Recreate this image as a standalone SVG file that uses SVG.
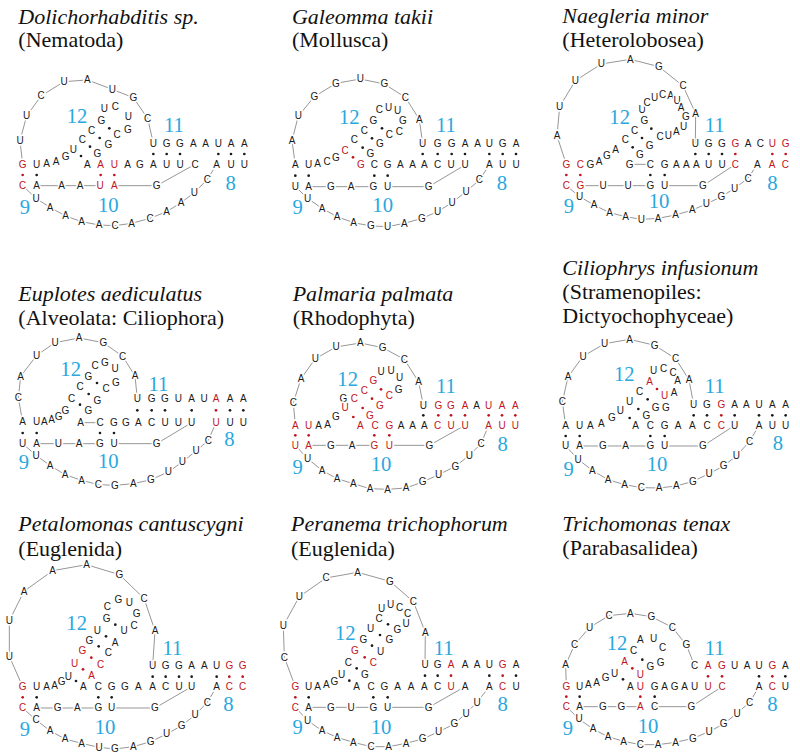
<svg xmlns="http://www.w3.org/2000/svg" width="800" height="756" viewBox="0 0 800 756">
<style>
.t{font-family:"Liberation Serif","Times New Roman",serif;font-size:66px;fill:#111}
.i{font-style:italic}
.s{font-family:"Liberation Sans",Arial,sans-serif;font-size:30px;text-anchor:middle;dominant-baseline:central;fill:#1a1a1a;stroke:#fff;stroke-width:10px;paint-order:stroke;stroke-linejoin:round}
.r{fill:#c0141c}
.n{font-family:"Liberation Serif","Times New Roman",serif;font-size:62px;fill:#29a8df;text-anchor:middle;dominant-baseline:central}
.l{fill:none;stroke:#858585;stroke-width:2.6px;stroke-linejoin:round}
.d{fill:#1a1a1a}
.dr{fill:#c0141c}
</style>
<rect width="800" height="756" fill="#fff"/>

<g id="p1" transform="translate(0 0) scale(0.333333)">
<text class="t i" x="55" y="72">Dolichorhabditis sp.</text>
<text class="t" x="55" y="142">(Nematoda)</text>
<g id="p1-connectors" class="l">
<polyline points="68,493 60,422 80,348 123,288 192,245 262,240 337,268 400,293 443,355 460,430"/>
<polyline points="110,557 300,557"/>
<polyline points="343,557 470,557 585,493"/>
<polyline points="68,557 108,595 150,622 197,648 245,665 297,675 345,677 395,670 450,655 500,635 543,608 583,578 622,538 650,493"/>
</g>
<g id="p1-letters">
<text class="s" x="60" y="422">U</text><text class="s" x="80" y="348">U</text><text class="s" x="123" y="288">C</text><text class="s" x="192" y="245">U</text><text class="s" x="262" y="240">A</text><text class="s" x="337" y="268">U</text><text class="s" x="400" y="293">G</text><text class="s" x="443" y="355">C</text>
<text class="s" x="460" y="430">U</text><text class="s" x="500" y="430">G</text><text class="s" x="540" y="430">G</text><text class="s" x="580" y="430">A</text><text class="s" x="617" y="430">A</text><text class="s" x="655" y="430">U</text><text class="s" x="693" y="430">A</text><text class="s" x="733" y="430">A</text>
<text class="s" x="140" y="491">A</text><text class="s" x="168" y="484">A</text><text class="s" x="197" y="469">G</text><text class="s" x="220" y="448">U</text>
<text class="s" x="247" y="420">C</text><text class="s" x="275" y="391">C</text><text class="s" x="304" y="361">G</text><text class="s" x="313" y="326">U</text><text class="s" x="346" y="321">C</text><text class="s" x="385" y="349">U</text><text class="s" x="384" y="388">G</text><text class="s" x="351" y="404">C</text><text class="s" x="325" y="433">G</text><text class="s" x="292" y="462">G</text>
<text class="s r" x="68" y="493">G</text><text class="s" x="110" y="493">U</text><text class="s" x="262" y="493">A</text><text class="s r" x="302" y="493">A</text><text class="s r" x="343" y="493">U</text><text class="s" x="383" y="493">A</text><text class="s" x="420" y="493">G</text><text class="s" x="460" y="493">A</text><text class="s" x="500" y="493">U</text><text class="s" x="540" y="493">U</text><text class="s" x="585" y="493">C</text><text class="s" x="650" y="493">A</text><text class="s" x="693" y="493">U</text><text class="s" x="733" y="493">U</text>
<text class="s r" x="68" y="557">C</text><text class="s" x="110" y="557">A</text><text class="s" x="185" y="557">A</text><text class="s" x="240" y="557">A</text><text class="s r" x="300" y="557">U</text><text class="s r" x="343" y="557">A</text><text class="s" x="470" y="557">G</text>
<text class="s" x="108" y="595">U</text><text class="s" x="150" y="622">A</text><text class="s" x="197" y="648">A</text><text class="s" x="245" y="665">A</text><text class="s" x="297" y="675">A</text><text class="s" x="345" y="677">C</text><text class="s" x="395" y="670">A</text><text class="s" x="450" y="655">C</text><text class="s" x="500" y="635">A</text><text class="s" x="543" y="608">A</text><text class="s" x="583" y="578">U</text><text class="s" x="622" y="538">C</text>
</g>
<g id="p1-dots" class="d"><circle cx="460" cy="462" r="4"/><circle cx="500" cy="462" r="4"/><circle cx="540" cy="462" r="4"/><circle cx="655" cy="462" r="4"/><circle cx="693" cy="462" r="4"/><circle cx="733" cy="462" r="4"/><circle cx="110" cy="525" r="4"/><circle cx="243" cy="468" r="4"/><circle cx="270" cy="440" r="4"/><circle cx="299" cy="414" r="4"/><circle cx="328" cy="385" r="4"/></g>
<g class="dr"><circle cx="68" cy="525" r="4"/><circle cx="302" cy="525" r="4"/><circle cx="343" cy="525" r="4"/></g>
<g id="p1-labels"><text class="n" x="231" y="348">12</text><text class="n" x="522" y="376">11</text><text class="n" x="325" y="615">10</text><text class="n" x="75" y="620">9</text><text class="n" x="692" y="548">8</text></g>
</g>

<g id="p2" transform="translate(266 0) scale(0.333333)">
<text class="t i" x="78" y="72">Galeomma takii</text>
<text class="t" x="78" y="142">(Mollusca)</text>
<g id="p2-connectors" class="l">
<polyline points="88,495 78,422 97,348 145,290 210,250 283,237 355,252 418,292 460,358 470,432"/>
<polyline points="128,560 322,560"/>
<polyline points="365,560 488,560 597,495"/>
<polyline points="88,560 125,595 168,625 213,650 263,668 315,678 365,680 415,670 468,655 515,635 558,608 600,575 640,540 670,495"/>
</g>
<g id="p2-letters">
<text class="s" x="78" y="422">A</text><text class="s" x="97" y="348">U</text><text class="s" x="145" y="290">G</text><text class="s" x="210" y="250">G</text><text class="s" x="283" y="237">U</text><text class="s" x="355" y="252">G</text><text class="s" x="418" y="292">C</text><text class="s" x="460" y="358">A</text>
<text class="s" x="470" y="432">U</text><text class="s" x="515" y="432">G</text><text class="s" x="557" y="432">G</text><text class="s" x="597" y="432">A</text><text class="s" x="635" y="432">A</text><text class="s" x="670" y="432">U</text><text class="s" x="710" y="432">G</text><text class="s" x="750" y="432">A</text>
<text class="s" x="155" y="490">A</text><text class="s" x="183" y="484">C</text><text class="s" x="210" y="474">G</text><text class="s r" x="237" y="452">C</text>
<text class="s" x="265" y="420">C</text><text class="s" x="295" y="392">C</text><text class="s" x="322" y="362">G</text><text class="s" x="340" y="330">C</text><text class="s" x="368" y="322">U</text><text class="s" x="395" y="331">U</text><text class="s" x="411" y="362">G</text><text class="s" x="400" y="395">C</text><text class="s" x="370" y="403">C</text><text class="s" x="342" y="432">G</text><text class="s" x="313" y="462">G</text>
<text class="s" x="88" y="495">A</text><text class="s" x="128" y="495">U</text><text class="s r" x="285" y="495">G</text><text class="s" x="325" y="495">C</text><text class="s" x="365" y="495">G</text><text class="s" x="403" y="495">A</text><text class="s" x="440" y="495">A</text><text class="s" x="475" y="495">A</text><text class="s" x="515" y="495">C</text><text class="s" x="555" y="495">U</text><text class="s" x="597" y="495">U</text><text class="s" x="670" y="495">A</text><text class="s" x="710" y="495">U</text><text class="s" x="750" y="495">U</text>
<text class="s" x="88" y="560">U</text><text class="s" x="128" y="560">A</text><text class="s" x="195" y="560">G</text><text class="s" x="255" y="560">A</text><text class="s" x="322" y="560">G</text><text class="s" x="365" y="560">U</text><text class="s" x="488" y="560">G</text>
<text class="s" x="125" y="595">U</text><text class="s" x="168" y="625">A</text><text class="s" x="213" y="650">A</text><text class="s" x="263" y="668">A</text><text class="s" x="315" y="678">G</text><text class="s" x="365" y="680">U</text><text class="s" x="415" y="670">A</text><text class="s" x="468" y="655">G</text><text class="s" x="515" y="635">U</text><text class="s" x="558" y="608">U</text><text class="s" x="600" y="575">U</text><text class="s" x="640" y="540">C</text>
</g>
<g id="p2-dots" class="d"><circle cx="470" cy="462" r="4"/><circle cx="515" cy="462" r="4"/><circle cx="557" cy="462" r="4"/><circle cx="597" cy="462" r="4"/><circle cx="670" cy="462" r="4"/><circle cx="710" cy="462" r="4"/><circle cx="750" cy="462" r="4"/><circle cx="88" cy="527" r="4"/><circle cx="128" cy="527" r="4"/><circle cx="325" cy="527" r="4"/><circle cx="365" cy="527" r="4"/><circle cx="290" cy="443" r="4"/><circle cx="318" cy="415" r="4"/><circle cx="348" cy="385" r="4"/></g>
<g class="dr"><circle cx="261" cy="472" r="4"/></g>
<g id="p2-labels"><text class="n" x="250" y="352">12</text><text class="n" x="540" y="376">11</text><text class="n" x="350" y="615">10</text><text class="n" x="95" y="620">9</text><text class="n" x="708" y="548">8</text></g>
</g>

<g id="p3" transform="translate(533 0) scale(0.333333)">
<text class="t i" x="88" y="70">Naegleria minor</text>
<text class="t" x="88" y="142">(Heterolobosea)</text>
<g id="p3-connectors" class="l">
<polyline points="100,493 72,408 80,320 127,242 205,192 292,178 378,200 450,258 488,340 487,432"/>
<polyline points="290,493 352,493"/>
<polyline points="142,557 352,557"/>
<polyline points="395,557 510,557 607,493"/>
<polyline points="100,557 140,590 183,615 230,638 278,650 325,658 375,655 428,645 478,630 520,612 565,590 605,565 645,535 673,493"/>
</g>
<g id="p3-letters">
<text class="s" x="72" y="408">A</text><text class="s" x="80" y="320">U</text><text class="s" x="127" y="242">U</text><text class="s" x="205" y="192">U</text><text class="s" x="292" y="178">A</text><text class="s" x="378" y="200">G</text><text class="s" x="450" y="258">C</text><text class="s" x="488" y="340">A</text>
<text class="s" x="487" y="432">U</text><text class="s" x="527" y="432">G</text><text class="s" x="567" y="432">G</text><text class="s r" x="607" y="432">G</text><text class="s" x="645" y="432">A</text><text class="s" x="682" y="432">C</text><text class="s r" x="718" y="432">U</text><text class="s r" x="758" y="432">G</text>
<text class="s" x="198" y="484">A</text><text class="s" x="222" y="468">G</text><text class="s" x="248" y="448">A</text>
<text class="s" x="277" y="420">C</text><text class="s" x="305" y="391">C</text><text class="s" x="334" y="363">G</text><text class="s" x="327" y="330">U</text><text class="s" x="342" y="309">C</text><text class="s" x="365" y="293">U</text><text class="s" x="389" y="284">C</text><text class="s" x="413" y="288">A</text><text class="s" x="432" y="301">U</text><text class="s" x="444" y="322">A</text><text class="s" x="459" y="350">G</text><text class="s" x="452" y="380">U</text><text class="s" x="430" y="394">A</text><text class="s" x="406" y="406">U</text><text class="s" x="381" y="411">C</text><text class="s" x="350" y="436">G</text><text class="s" x="321" y="465">G</text>
<text class="s r" x="100" y="493">G</text><text class="s r" x="142" y="493">C</text><text class="s" x="172" y="493">G</text><text class="s" x="290" y="493">G</text><text class="s" x="352" y="493">C</text><text class="s" x="395" y="493">G</text><text class="s" x="430" y="493">A</text><text class="s" x="460" y="493">A</text><text class="s" x="490" y="493">A</text><text class="s" x="527" y="493">U</text><text class="s" x="567" y="493">U</text><text class="s r" x="607" y="493">C</text><text class="s" x="673" y="493">A</text><text class="s r" x="717" y="493">A</text><text class="s r" x="757" y="493">C</text>
<text class="s r" x="100" y="557">C</text><text class="s r" x="142" y="557">G</text><text class="s" x="210" y="557">U</text><text class="s" x="285" y="557">U</text><text class="s" x="352" y="557">G</text><text class="s" x="395" y="557">U</text><text class="s" x="510" y="557">G</text>
<text class="s" x="140" y="590">U</text><text class="s" x="183" y="615">A</text><text class="s" x="230" y="638">A</text><text class="s" x="278" y="650">A</text><text class="s" x="325" y="658">U</text><text class="s" x="375" y="655">A</text><text class="s" x="428" y="645">A</text><text class="s" x="478" y="630">A</text><text class="s" x="520" y="612">U</text><text class="s" x="565" y="590">G</text><text class="s" x="605" y="565">U</text><text class="s" x="645" y="535">C</text>
</g>
<g id="p3-dots" class="d"><circle cx="487" cy="462" r="4"/><circle cx="527" cy="462" r="4"/><circle cx="567" cy="462" r="4"/><circle cx="352" cy="525" r="4"/><circle cx="395" cy="525" r="4"/><circle cx="299" cy="442" r="4"/><circle cx="327" cy="414" r="4"/><circle cx="355" cy="386" r="4"/></g>
<g class="dr"><circle cx="607" cy="462" r="4"/><circle cx="718" cy="462" r="4"/><circle cx="758" cy="462" r="4"/><circle cx="100" cy="525" r="4"/><circle cx="142" cy="525" r="4"/></g>
<g id="p3-labels"><text class="n" x="260" y="350">12</text><text class="n" x="545" y="376">11</text><text class="n" x="378" y="603">10</text><text class="n" x="108" y="618">9</text><text class="n" x="718" y="548">8</text></g>
</g>

<g id="p4" transform="translate(0 252) scale(0.333333)">
<text class="t i" x="55" y="148">Euplotes aediculatus</text>
<text class="t" x="55" y="220">(Alveolata: Ciliophora)</text>
<g id="p4-connectors" class="l">
<polyline points="68,510 55,438 62,373 110,310 165,272 237,258 310,272 368,313 405,372 412,440"/>
<polyline points="242,512 300,512"/>
<polyline points="110,575 300,575"/>
<polyline points="342,575 470,575 575,512"/>
<polyline points="68,575 108,610 150,640 195,668 245,685 295,698 345,700 400,695 453,683 505,660 547,630 588,597 625,565 648,512"/>
</g>
<g id="p4-letters">
<text class="s" x="55" y="438">C</text><text class="s" x="62" y="373">A</text><text class="s" x="110" y="310">U</text><text class="s" x="165" y="272">U</text><text class="s" x="237" y="258">A</text><text class="s" x="310" y="272">G</text><text class="s" x="368" y="313">C</text><text class="s" x="405" y="372">A</text>
<text class="s" x="412" y="440">U</text><text class="s" x="455" y="440">G</text><text class="s" x="495" y="440">G</text><text class="s" x="535" y="440">U</text><text class="s" x="575" y="440">A</text><text class="s" x="612" y="440">U</text><text class="s r" x="648" y="440">A</text><text class="s" x="690" y="440">A</text><text class="s" x="730" y="440">A</text>
<text class="s" x="155" y="504">A</text><text class="s" x="176" y="494">G</text><text class="s" x="196" y="476">G</text>
<text class="s" x="215" y="440">C</text><text class="s" x="240" y="405">C</text><text class="s" x="265" y="375">G</text><text class="s" x="285" y="340">C</text><text class="s" x="315" y="332">G</text><text class="s" x="345" y="350">U</text><text class="s" x="348" y="393">G</text><text class="s" x="318" y="411">C</text><text class="s" x="292" y="447">G</text><text class="s" x="265" y="475">G</text>
<text class="s" x="68" y="510">A</text><text class="s" x="110" y="510">U</text><text class="s" x="133" y="510">A</text>
<text class="s" x="242" y="512">A</text><text class="s" x="300" y="512">C</text><text class="s" x="342" y="512">G</text><text class="s" x="378" y="512">G</text><text class="s" x="415" y="512">A</text><text class="s" x="455" y="512">C</text><text class="s" x="495" y="512">U</text><text class="s" x="535" y="512">U</text><text class="s" x="575" y="512">U</text><text class="s r" x="648" y="512">U</text><text class="s" x="690" y="512">U</text><text class="s" x="730" y="512">U</text>
<text class="s" x="68" y="575">U</text><text class="s" x="110" y="575">A</text><text class="s" x="175" y="575">U</text><text class="s" x="237" y="575">A</text><text class="s" x="300" y="575">G</text><text class="s" x="342" y="575">U</text><text class="s" x="470" y="575">G</text>
<text class="s" x="108" y="610">U</text><text class="s" x="150" y="640">A</text><text class="s" x="195" y="668">A</text><text class="s" x="245" y="685">A</text><text class="s" x="295" y="698">C</text><text class="s" x="345" y="700">G</text><text class="s" x="400" y="695">A</text><text class="s" x="453" y="683">G</text><text class="s" x="505" y="660">U</text><text class="s" x="547" y="630">U</text><text class="s" x="588" y="597">U</text><text class="s" x="625" y="565">C</text>
</g>
<g id="p4-dots" class="d"><circle cx="412" cy="475" r="4"/><circle cx="455" cy="475" r="4"/><circle cx="495" cy="475" r="4"/><circle cx="575" cy="475" r="4"/><circle cx="690" cy="475" r="4"/><circle cx="730" cy="475" r="4"/><circle cx="68" cy="543" r="4"/><circle cx="110" cy="543" r="4"/><circle cx="300" cy="543" r="4"/><circle cx="342" cy="543" r="4"/><circle cx="240" cy="458" r="4"/><circle cx="266" cy="426" r="4"/><circle cx="291" cy="393" r="4"/></g>
<g class="dr"><circle cx="648" cy="475" r="4"/></g>
<g id="p4-labels"><text class="n" x="212" y="350">12</text><text class="n" x="475" y="395">11</text><text class="n" x="325" y="627">10</text><text class="n" x="72" y="630">9</text><text class="n" x="688" y="560">8</text></g>
</g>

<g id="p5" transform="translate(266 252) scale(0.333333)">
<text class="t i" x="80" y="148">Palmaria palmata</text>
<text class="t" x="80" y="220">(Rhodophyta)</text>
<g id="p5-connectors" class="l">
<polyline points="88,520 82,452 105,380 148,320 210,285 283,273 350,287 415,322 458,390 472,460"/>
<polyline points="128,580 325,580"/>
<polyline points="370,580 490,580 597,520"/>
<polyline points="88,580 125,620 168,655 213,680 262,695 312,710 365,712 420,708 470,690 518,668 568,643 610,610 645,575 668,520"/>
</g>
<g id="p5-letters">
<text class="s" x="82" y="452">C</text><text class="s" x="105" y="380">A</text><text class="s" x="148" y="320">U</text><text class="s" x="210" y="285">U</text><text class="s" x="283" y="273">A</text><text class="s" x="350" y="287">G</text><text class="s" x="415" y="322">C</text><text class="s" x="458" y="390">A</text>
<text class="s" x="472" y="460">U</text><text class="s r" x="517" y="460">G</text><text class="s r" x="555" y="460">G</text><text class="s r" x="597" y="460">A</text><text class="s" x="632" y="460">A</text><text class="s r" x="668" y="460">U</text><text class="s r" x="708" y="460">A</text><text class="s r" x="748" y="460">A</text>
<text class="s" x="185" y="517">A</text><text class="s" x="210" y="493">G</text><text class="s" x="232" y="440">G</text>
<text class="s r" x="237" y="468">U</text><text class="s r" x="265" y="440">C</text><text class="s r" x="295" y="415">C</text><text class="s r" x="322" y="385">G</text>
<text class="s" x="345" y="358">U</text><text class="s" x="375" y="356">U</text><text class="s" x="401" y="378">U</text><text class="s" x="398" y="412">G</text>
<text class="s r" x="370" y="432">C</text><text class="s r" x="342" y="462">G</text><text class="s r" x="312" y="492">G</text>
<text class="s r" x="88" y="520">A</text><text class="s r" x="128" y="520">U</text><text class="s" x="158" y="520">A</text><text class="s r" x="283" y="520">A</text><text class="s r" x="327" y="520">C</text><text class="s r" x="370" y="520">G</text><text class="s" x="405" y="520">A</text><text class="s" x="440" y="520">A</text><text class="s" x="475" y="520">A</text><text class="s r" x="515" y="520">C</text><text class="s r" x="555" y="520">U</text><text class="s r" x="597" y="520">U</text><text class="s r" x="668" y="520">A</text><text class="s r" x="708" y="520">U</text><text class="s r" x="748" y="520">U</text>
<text class="s r" x="88" y="580">U</text><text class="s r" x="128" y="580">A</text><text class="s" x="195" y="580">G</text><text class="s" x="258" y="580">A</text><text class="s r" x="325" y="580">G</text><text class="s r" x="370" y="580">U</text><text class="s" x="490" y="580">G</text>
<text class="s" x="125" y="620">U</text><text class="s" x="168" y="655">A</text><text class="s" x="213" y="680">A</text><text class="s" x="262" y="695">A</text><text class="s" x="312" y="710">A</text><text class="s" x="365" y="712">A</text><text class="s" x="420" y="708">A</text><text class="s" x="470" y="690">G</text><text class="s" x="518" y="668">U</text><text class="s" x="568" y="643">G</text><text class="s" x="610" y="610">U</text><text class="s" x="645" y="575">C</text>
</g>
<g id="p5-dots" class="d"><circle cx="472" cy="490" r="4"/></g>
<g class="dr"><circle cx="517" cy="490" r="4"/><circle cx="555" cy="490" r="4"/><circle cx="597" cy="490" r="4"/><circle cx="668" cy="490" r="4"/><circle cx="708" cy="490" r="4"/><circle cx="748" cy="490" r="4"/><circle cx="88" cy="550" r="4"/><circle cx="128" cy="550" r="4"/><circle cx="325" cy="550" r="4"/><circle cx="370" cy="550" r="4"/><circle cx="262" cy="495" r="4"/><circle cx="290" cy="468" r="4"/><circle cx="318" cy="440" r="4"/><circle cx="345" cy="412" r="4"/></g>
<g id="p5-labels"><text class="n" x="245" y="380">12</text><text class="n" x="540" y="403">11</text><text class="n" x="345" y="635">10</text><text class="n" x="95" y="645">9</text><text class="n" x="710" y="575">8</text></g>
</g>

<g id="p6" transform="translate(533 252) scale(0.333333)">
<text class="t i" x="88" y="68">Ciliophrys infusionum</text>
<text class="t" x="88" y="140">(Stramenopiles:</text>
<text class="t" x="88" y="212">Dictyochophyceae)</text>
<g id="p6-connectors" class="l">
<polyline points="98,520 88,450 105,375 150,313 215,275 290,262 365,280 428,320 468,383 482,458"/>
<polyline points="140,582 352,582"/>
<polyline points="395,582 510,582 605,520"/>
<polyline points="98,582 135,622 178,655 225,683 275,698 325,707 378,708 430,702 480,688 528,665 572,642 610,612 650,568 678,520"/>
</g>
<g id="p6-letters">
<text class="s" x="88" y="450">C</text><text class="s" x="105" y="375">A</text><text class="s" x="150" y="313">U</text><text class="s" x="215" y="275">U</text><text class="s" x="290" y="262">A</text><text class="s" x="365" y="280">G</text><text class="s" x="428" y="320">C</text><text class="s" x="468" y="383">A</text>
<text class="s" x="482" y="458">U</text><text class="s" x="522" y="458">G</text><text class="s r" x="565" y="458">G</text><text class="s" x="605" y="458">A</text><text class="s" x="640" y="458">A</text><text class="s" x="678" y="458">U</text><text class="s" x="718" y="458">A</text><text class="s" x="758" y="458">A</text>
<text class="s" x="205" y="515">A</text><text class="s" x="237" y="498">G</text><text class="s" x="262" y="475">U</text>
<text class="s" x="290" y="450">U</text><text class="s" x="320" y="420">C</text><text class="s r" x="350" y="390">A</text>
<text class="s" x="362" y="357">U</text><text class="s" x="392" y="351">C</text><text class="s" x="420" y="363">C</text><text class="s" x="434" y="387">A</text><text class="s" x="423" y="421">A</text>
<text class="s r" x="395" y="431">U</text>
<text class="s" x="399" y="466">G</text><text class="s" x="368" y="466">G</text><text class="s" x="340" y="492">G</text>
<text class="s" x="98" y="520">A</text><text class="s" x="140" y="520">U</text><text class="s" x="172" y="520">A</text><text class="s" x="308" y="520">A</text><text class="s" x="352" y="520">C</text><text class="s" x="395" y="520">G</text><text class="s" x="435" y="520">A</text><text class="s" x="478" y="520">A</text><text class="s" x="522" y="520">C</text><text class="s r" x="565" y="520">C</text><text class="s" x="605" y="520">U</text><text class="s" x="678" y="520">A</text><text class="s" x="718" y="520">U</text><text class="s" x="758" y="520">U</text>
<text class="s" x="98" y="582">U</text><text class="s" x="140" y="582">A</text><text class="s" x="210" y="582">G</text><text class="s" x="278" y="582">A</text><text class="s" x="352" y="582">G</text><text class="s" x="395" y="582">U</text><text class="s" x="510" y="582">G</text>
<text class="s" x="135" y="622">U</text><text class="s" x="178" y="655">A</text><text class="s" x="225" y="683">A</text><text class="s" x="275" y="698">A</text><text class="s" x="325" y="707">C</text><text class="s" x="378" y="708">A</text><text class="s" x="430" y="702">A</text><text class="s" x="480" y="688">G</text><text class="s" x="528" y="665">U</text><text class="s" x="572" y="642">G</text><text class="s" x="610" y="612">U</text><text class="s" x="650" y="568">C</text>
</g>
<g id="p6-dots" class="d"><circle cx="482" cy="490" r="4"/><circle cx="522" cy="490" r="4"/><circle cx="605" cy="490" r="4"/><circle cx="678" cy="490" r="4"/><circle cx="718" cy="490" r="4"/><circle cx="758" cy="490" r="4"/><circle cx="98" cy="552" r="4"/><circle cx="140" cy="552" r="4"/><circle cx="352" cy="552" r="4"/><circle cx="395" cy="552" r="4"/><circle cx="290" cy="498" r="4"/><circle cx="316" cy="471" r="4"/><circle cx="344" cy="442" r="4"/></g>
<g class="dr"><circle cx="565" cy="490" r="4"/><circle cx="372" cy="411" r="4"/></g>
<g id="p6-labels"><text class="n" x="274" y="367">12</text><text class="n" x="545" y="403">11</text><text class="n" x="372" y="635">10</text><text class="n" x="107" y="652">9</text><text class="n" x="735" y="573">8</text></g>
</g>

<g id="p7" transform="translate(0 504) scale(0.333333)">
<text class="t i" x="55" y="80">Petalomonas cantuscygni</text>
<text class="t" x="55" y="155">(Euglenida)</text>
<g id="p7-connectors" class="l">
<polyline points="68,548 28,457 28,350 72,262 158,200 260,182 358,212 432,283 465,380 458,485"/>
<polyline points="110,612 295,612"/>
<polyline points="335,612 465,612 575,548"/>
<polyline points="68,612 108,648 150,680 195,705 245,718 297,730 345,735 400,728 452,713 500,690 545,665 585,633 622,595 650,548"/>
</g>
<g id="p7-letters">
<text class="s" x="28" y="457">U</text><text class="s" x="28" y="350">U</text><text class="s" x="72" y="262">A</text><text class="s" x="158" y="200">A</text><text class="s" x="260" y="182">A</text><text class="s" x="358" y="212">G</text><text class="s" x="432" y="283">C</text><text class="s" x="465" y="380">A</text>
<text class="s" x="458" y="485">U</text><text class="s" x="497" y="485">G</text><text class="s" x="537" y="485">G</text><text class="s" x="575" y="485">A</text><text class="s" x="613" y="485">A</text><text class="s" x="650" y="485">U</text><text class="s r" x="688" y="485">G</text><text class="s r" x="728" y="485">G</text>
<text class="s" x="164" y="545">A</text><text class="s" x="185" y="534">G</text><text class="s" x="205" y="517">U</text>
<text class="s r" x="224" y="478">U</text><text class="s r" x="247" y="440">G</text>
<text class="s" x="268" y="410">G</text><text class="s" x="292" y="380">U</text><text class="s" x="320" y="345">G</text><text class="s" x="322" y="307">C</text><text class="s" x="355" y="288">G</text><text class="s" x="388" y="295">U</text><text class="s" x="410" y="328">G</text><text class="s" x="402" y="365">C</text><text class="s" x="372" y="380">U</text><text class="s" x="345" y="415">A</text><text class="s" x="325" y="445">C</text>
<text class="s r" x="302" y="482">C</text><text class="s r" x="275" y="515">A</text>
<text class="s r" x="68" y="548">G</text><text class="s" x="110" y="548">U</text><text class="s" x="140" y="548">A</text><text class="s" x="250" y="548">A</text><text class="s" x="295" y="548">C</text><text class="s" x="335" y="548">G</text><text class="s" x="375" y="548">G</text><text class="s" x="415" y="548">A</text><text class="s" x="458" y="548">A</text><text class="s" x="497" y="548">C</text><text class="s" x="537" y="548">U</text><text class="s" x="575" y="548">U</text><text class="s" x="650" y="548">A</text><text class="s r" x="688" y="548">C</text><text class="s r" x="728" y="548">C</text>
<text class="s r" x="68" y="612">C</text><text class="s" x="110" y="612">A</text><text class="s" x="173" y="612">G</text><text class="s" x="232" y="612">A</text><text class="s" x="295" y="612">G</text><text class="s" x="335" y="612">U</text><text class="s" x="465" y="612">G</text>
<text class="s" x="108" y="648">C</text><text class="s" x="150" y="680">A</text><text class="s" x="195" y="705">A</text><text class="s" x="245" y="718">A</text><text class="s" x="297" y="730">U</text><text class="s" x="345" y="735">G</text><text class="s" x="400" y="728">A</text><text class="s" x="452" y="713">G</text><text class="s" x="500" y="690">U</text><text class="s" x="545" y="665">G</text><text class="s" x="585" y="633">U</text><text class="s" x="622" y="595">C</text>
</g>
<g id="p7-dots" class="d"><circle cx="458" cy="518" r="4"/><circle cx="497" cy="518" r="4"/><circle cx="537" cy="518" r="4"/><circle cx="575" cy="518" r="4"/><circle cx="650" cy="518" r="4"/><circle cx="110" cy="580" r="4"/><circle cx="295" cy="580" r="4"/><circle cx="335" cy="580" r="4"/><circle cx="228" cy="531" r="4"/><circle cx="296" cy="427" r="4"/><circle cx="318" cy="397" r="4"/><circle cx="346" cy="362" r="4"/></g>
<g class="dr"><circle cx="688" cy="518" r="4"/><circle cx="728" cy="518" r="4"/><circle cx="68" cy="580" r="4"/><circle cx="249" cy="496" r="4"/><circle cx="274" cy="461" r="4"/></g>
<g id="p7-labels"><text class="n" x="230" y="358">12</text><text class="n" x="517" y="431">11</text><text class="n" x="315" y="668">10</text><text class="n" x="75" y="675">9</text><text class="n" x="685" y="600">8</text></g>
</g>

<g id="p8" transform="translate(266 504) scale(0.333333)">
<text class="t i" x="75" y="80">Peranema trichophorum</text>
<text class="t" x="75" y="155">(Euglenida)</text>
<g id="p8-connectors" class="l">
<polyline points="88,548 55,460 52,365 100,278 180,222 275,205 372,232 442,293 478,385 477,483"/>
<polyline points="128,610 322,610"/>
<polyline points="365,610 488,610 597,548"/>
<polyline points="88,610 125,650 168,680 213,700 262,715 315,728 368,728 420,718 470,705 518,683 565,660 600,628 633,595 670,548"/>
</g>
<g id="p8-letters">
<text class="s" x="55" y="460">C</text><text class="s" x="52" y="365">U</text><text class="s" x="100" y="278">U</text><text class="s" x="180" y="222">C</text><text class="s" x="275" y="205">A</text><text class="s" x="372" y="232">G</text><text class="s" x="442" y="293">C</text><text class="s" x="478" y="385">A</text>
<text class="s" x="477" y="483">U</text><text class="s" x="515" y="483">G</text><text class="s r" x="555" y="483">A</text><text class="s" x="597" y="483">A</text><text class="s" x="633" y="483">A</text><text class="s" x="670" y="483">U</text><text class="s r" x="710" y="483">G</text><text class="s" x="750" y="483">A</text>
<text class="s" x="181" y="543">A</text><text class="s" x="205" y="532">G</text><text class="s" x="227" y="512">U</text>
<text class="s" x="247" y="475">C</text><text class="s r" x="267" y="441">G</text>
<text class="s" x="292" y="406">G</text><text class="s" x="314" y="375">U</text><text class="s" x="339" y="345">C</text><text class="s" x="347" y="313">U</text><text class="s" x="374" y="303">U</text><text class="s" x="401" y="310">C</text><text class="s" x="425" y="328">C</text><text class="s" x="420" y="358">U</text><text class="s" x="394" y="378">G</text><text class="s" x="370" y="408">G</text><text class="s" x="344" y="443">U</text>
<text class="s r" x="322" y="476">C</text><text class="s" x="297" y="511">G</text>
<text class="s r" x="88" y="548">G</text><text class="s" x="128" y="548">U</text><text class="s" x="155" y="548">A</text><text class="s" x="272" y="548">A</text><text class="s" x="315" y="548">C</text><text class="s" x="355" y="548">G</text><text class="s" x="395" y="548">A</text><text class="s" x="435" y="548">A</text><text class="s" x="475" y="548">A</text><text class="s" x="515" y="548">C</text><text class="s r" x="555" y="548">U</text><text class="s" x="597" y="548">A</text><text class="s" x="670" y="548">A</text><text class="s r" x="710" y="548">C</text><text class="s" x="750" y="548">U</text>
<text class="s r" x="88" y="610">C</text><text class="s" x="128" y="610">A</text><text class="s" x="195" y="610">G</text><text class="s" x="255" y="610">U</text><text class="s" x="322" y="610">G</text><text class="s" x="365" y="610">U</text><text class="s" x="488" y="610">G</text>
<text class="s" x="125" y="650">U</text><text class="s" x="168" y="680">A</text><text class="s" x="213" y="700">A</text><text class="s" x="262" y="715">A</text><text class="s" x="315" y="728">C</text><text class="s" x="368" y="728">A</text><text class="s" x="420" y="718">A</text><text class="s" x="470" y="705">G</text><text class="s" x="518" y="683">U</text><text class="s" x="565" y="660">G</text><text class="s" x="600" y="628">U</text><text class="s" x="633" y="595">U</text>
</g>
<g id="p8-dots" class="d"><circle cx="477" cy="515" r="4"/><circle cx="515" cy="515" r="4"/><circle cx="670" cy="515" r="4"/><circle cx="750" cy="515" r="4"/><circle cx="128" cy="580" r="4"/><circle cx="322" cy="580" r="4"/><circle cx="365" cy="580" r="4"/><circle cx="272" cy="493" r="4"/><circle cx="250" cy="530" r="4"/><circle cx="318" cy="425" r="4"/><circle cx="342" cy="393" r="4"/><circle cx="366" cy="361" r="4"/></g>
<g class="dr"><circle cx="555" cy="515" r="4"/><circle cx="710" cy="515" r="4"/><circle cx="88" cy="580" r="4"/><circle cx="296" cy="460" r="4"/></g>
<g id="p8-labels"><text class="n" x="238" y="386">12</text><text class="n" x="533" y="433">11</text><text class="n" x="345" y="670">10</text><text class="n" x="95" y="670">9</text><text class="n" x="710" y="600">8</text></g>
</g>

<g id="p9" transform="translate(533 504) scale(0.333333)">
<text class="t i" x="88" y="82">Trichomonas tenax</text>
<text class="t" x="88" y="152">(Parabasalidea)</text>
<g id="p9-connectors" class="l">
<polyline points="100,548 98,482 125,422 170,370 228,335 292,328 355,338 418,370 460,423 485,485"/>
<polyline points="140,608 322,608"/>
<polyline points="365,608 475,608 567,548"/>
<polyline points="100,608 138,645 180,675 225,698 272,712 322,722 375,722 428,715 480,703 528,683 572,660 612,628 650,595 678,548"/>
</g>
<g id="p9-letters">
<text class="s" x="98" y="482">A</text><text class="s" x="125" y="422">C</text><text class="s" x="170" y="370">U</text><text class="s" x="228" y="335">C</text><text class="s" x="292" y="328">A</text><text class="s" x="355" y="338">G</text><text class="s" x="418" y="370">C</text><text class="s" x="460" y="423">G</text>
<text class="s" x="485" y="485">C</text><text class="s r" x="525" y="485">A</text><text class="s r" x="567" y="485">G</text><text class="s" x="605" y="485">U</text><text class="s" x="642" y="485">A</text><text class="s" x="678" y="485">U</text><text class="s r" x="718" y="485">G</text><text class="s" x="757" y="485">A</text>
<text class="s" x="166" y="543">A</text><text class="s" x="191" y="535">A</text><text class="s" x="218" y="522">G</text><text class="s" x="245" y="508">U</text>
<text class="s r" x="275" y="472">A</text>
<text class="s" x="302" y="440">C</text><text class="s" x="322" y="408">A</text><text class="s" x="362" y="404">U</text><text class="s" x="389" y="432">C</text><text class="s" x="383" y="477">G</text><text class="s" x="352" y="489">G</text>
<text class="s r" x="322" y="513">U</text>
<text class="s r" x="100" y="548">G</text><text class="s" x="140" y="548">U</text><text class="s" x="292" y="548">A</text><text class="s r" x="322" y="548">U</text><text class="s" x="365" y="548">G</text><text class="s" x="395" y="548">A</text><text class="s" x="425" y="548">G</text><text class="s" x="455" y="548">A</text><text class="s" x="485" y="548">U</text><text class="s r" x="525" y="548">U</text><text class="s r" x="567" y="548">C</text><text class="s" x="678" y="548">A</text><text class="s r" x="718" y="548">C</text><text class="s" x="757" y="548">U</text>
<text class="s r" x="100" y="608">C</text><text class="s" x="140" y="608">A</text><text class="s" x="210" y="608">G</text><text class="s" x="265" y="608">G</text><text class="s r" x="322" y="608">A</text><text class="s" x="365" y="608">C</text><text class="s" x="475" y="608">G</text>
<text class="s" x="138" y="645">U</text><text class="s" x="180" y="675">A</text><text class="s" x="225" y="698">A</text><text class="s" x="272" y="712">A</text><text class="s" x="322" y="722">C</text><text class="s" x="375" y="722">A</text><text class="s" x="428" y="715">A</text><text class="s" x="480" y="703">G</text><text class="s" x="528" y="683">U</text><text class="s" x="572" y="660">G</text><text class="s" x="612" y="628">U</text><text class="s" x="650" y="595">C</text>
</g>
<g id="p9-dots" class="d"><circle cx="678" cy="517" r="4"/><circle cx="757" cy="517" r="4"/><circle cx="140" cy="578" r="4"/><circle cx="365" cy="578" r="4"/><circle cx="270" cy="526" r="4"/><circle cx="328" cy="467" r="4"/></g>
<g class="dr"><circle cx="525" cy="517" r="4"/><circle cx="567" cy="517" r="4"/><circle cx="718" cy="517" r="4"/><circle cx="100" cy="578" r="4"/><circle cx="322" cy="578" r="4"/><circle cx="298" cy="493" r="4"/></g>
<g id="p9-labels"><text class="n" x="252" y="418">12</text><text class="n" x="545" y="433">11</text><text class="n" x="345" y="665">10</text><text class="n" x="105" y="672">9</text><text class="n" x="718" y="600">8</text></g>
</g>
</svg>
